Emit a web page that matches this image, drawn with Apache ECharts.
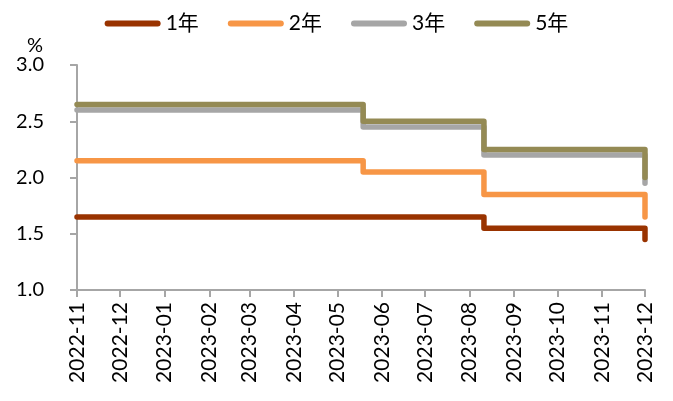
<!DOCTYPE html>
<html>
<head>
<meta charset="utf-8">
<script src="https://cdn.jsdelivr.net/npm/echarts@6/dist/echarts.min.js"></script>
<style>
  html, body { margin: 0; padding: 0; background: #fff; }
  #chart { width: 673px; height: 401px; }
</style>
</head>
<body>
<div id="chart"></div>
<script>
// dates where the rates change (step points)
const changeDates = ['2022-11-01', '2023-05-19', '2023-08-11', '2023-12-01']
const seriesNames = ['1年', '2年', '3年', '5年']
const rate1y = [1.65, 1.65, 1.55, 1.45]
const rate2y = [2.15, 2.05, 1.85, 1.65]
const rate3y = [2.60, 2.45, 2.20, 1.95]
const rate5y = [2.65, 2.50, 2.25, 2.00]
const colors = ['#993300', '#f79646', '#a6a6a6', '#948a54']

const fontFamily = 'Lato, "Noto Sans CJK SC", sans-serif'
const axisColor = '#a6a6a6'

const chart = echarts.init(document.getElementById('chart'))

const makeSeries = (name, values, color) => ({
  name: name,
  type: 'line',
  step: 'end',
  symbol: 'none',
  data: changeDates.map((d, i) => [d, values[i]]),
  lineStyle: { color: color, width: 5.5, cap: 'round', join: 'round' },
  itemStyle: { color: color }
})

chart.setOption({
  animation: false,
  textStyle: { fontFamily: fontFamily },
  legend: {
    top: 8,
    left: 'center',
    itemWidth: 56,
    itemHeight: 7,
    itemGap: 29,
    icon: 'path://M3,0 H53 A3,3 0 0 1 53,6 H3 A3,3 0 0 1 3,0 Z',
    textStyle: { fontSize: 21, color: '#000', fontFamily: fontFamily },
    data: seriesNames
  },
  grid: {
    left: 77,
    right: 28,
    top: 65,
    bottom: 111
  },
  xAxis: {
    type: 'time',
    min: '2022-11-01',
    max: '2023-12-01',
    minInterval: 28 * 86400000,
    maxInterval: 31 * 86400000,
    axisLine: { lineStyle: { color: axisColor, width: 2 } },
    axisTick: { show: true, length: 7, lineStyle: { color: axisColor, width: 2 } },
    splitLine: { show: false },
    axisLabel: {
      rotate: 90,
      fontSize: 21,
      color: '#000',
      margin: 12,
      fontFamily: fontFamily,
      formatter: '{yyyy}-{MM}',
      showMinLabel: true,
      showMaxLabel: true
    }
  },
  yAxis: {
    type: 'value',
    min: 1,
    max: 3,
    interval: 0.5,
    name: '%',
    nameLocation: 'end',
    nameGap: 8,
    nameTextStyle: { fontSize: 20, color: '#000', align: 'right', padding: [0, 34, 0, 0] },
    axisLine: { show: true, lineStyle: { color: axisColor, width: 2 } },
    axisTick: { show: true, length: 7, lineStyle: { color: axisColor, width: 2 } },
    splitLine: { show: false },
    axisLabel: {
      fontSize: 20,
      color: '#000',
      margin: 33,
      fontFamily: fontFamily,
      formatter: (v) => v.toFixed(1)
    }
  },
  series: [
    makeSeries(seriesNames[0], rate1y, colors[0]),
    makeSeries(seriesNames[1], rate2y, colors[1]),
    makeSeries(seriesNames[2], rate3y, colors[2]),
    makeSeries(seriesNames[3], rate5y, colors[3])
  ]
})
</script>
</body>
</html>
